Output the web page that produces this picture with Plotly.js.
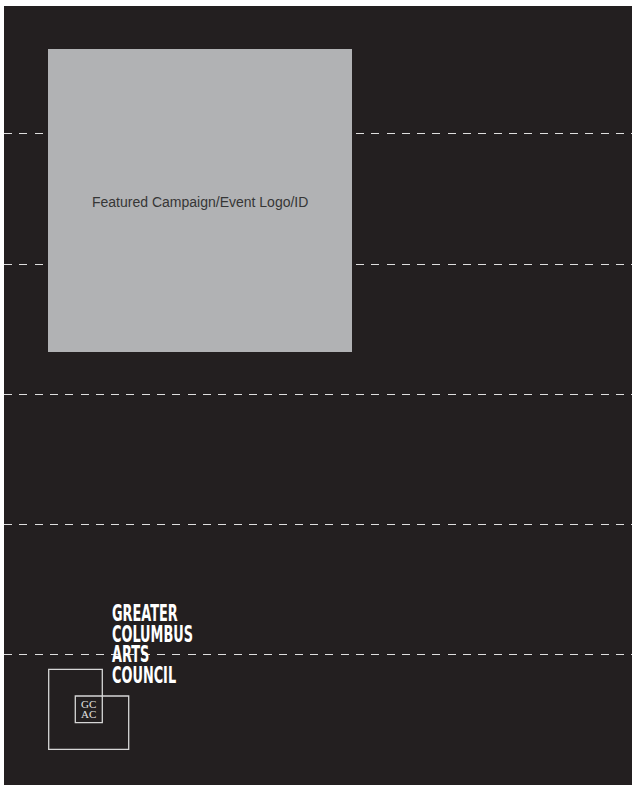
<!DOCTYPE html>
<html>
<head>
<meta charset="utf-8">
<script src="https://cdn.plot.ly/plotly-3.0.1.min.js"></script>
<style>
  html, body { margin: 0; padding: 0; background: #ffffff; }
  #chart { width: 632px; height: 785px; }
</style>
</head>
<body>
<div id="chart"></div>
<script>
// ---- content ----
var guideLineY = [133.5, 264, 394, 524, 654.5];           // dashed trim/guide lines
var placeholderLabel = 'Featured Campaign/Event Logo/ID';
var wordmarkLines = ['GREATER', 'COLUMBUS', 'ARTS', 'COUNCIL'];
var monogramLines = ['GC', 'AC'];

// ---- layout constants ----
var W = 632, H = 785;
var BG = '#231f20';
var PANEL = '#b1b2b4';
var panel = {x0: 48, y0: 49, x1: 352, y1: 352};
var wordmark = {x: 109.5, yTop: 613, step: 20.6, size: 23, widestPx: 81};
var mono = {cx: 88.8, yTop: 704, step: 9.8};

var annotations = [];
annotations.push({
  x: (panel.x0 + panel.x1) / 2, y: (panel.y0 + panel.y1) / 2 + 1,
  xref: 'x', yref: 'y', text: placeholderLabel, showarrow: false,
  xanchor: 'center', yanchor: 'middle',
  font: {family: 'Liberation Sans, Arial, sans-serif', size: 14, color: '#363636'}
});
var wordmarkStart = annotations.length;
wordmarkLines.forEach(function (t, i) {
  annotations.push({
    x: wordmark.x, y: wordmark.yTop + i * wordmark.step,
    xref: 'x', yref: 'y', text: '<b>' + t + '</b>', showarrow: false,
    xanchor: 'left', yanchor: 'middle',
    font: {family: 'DejaVu Sans Condensed, DejaVu Sans, sans-serif', size: wordmark.size, color: '#ffffff'}
  });
});
monogramLines.forEach(function (t, i) {
  annotations.push({
    x: mono.cx, y: mono.yTop + i * mono.step,
    xref: 'x', yref: 'y', text: t, showarrow: false,
    xanchor: 'center', yanchor: 'middle',
    font: {family: 'Liberation Serif, DejaVu Serif, serif', size: 11, color: '#e2e2e2'}
  });
});

var shapes = [
  {type: 'rect', xref: 'x', yref: 'y', x0: panel.x0, x1: panel.x1, y0: panel.y0, y1: panel.y1,
   fillcolor: PANEL, line: {width: 0}, layer: 'above'},
  {type: 'path', xref: 'x', yref: 'y', layer: 'above',
   path: 'M48.7,669.3 L102.3,669.3 L102.3,696 L128.7,696 L128.7,749.3 L48.7,749.3 Z',
   line: {color: '#d6d6d6', width: 1.3}},
  {type: 'rect', xref: 'x', yref: 'y', layer: 'above',
   x0: 75.3, x1: 102.3, y0: 696, y1: 722.7,
   line: {color: '#d6d6d6', width: 1.3}}
];

var data = [{x: [4], y: [6], type: 'scatter', mode: 'markers',
  marker: {opacity: 0}, hoverinfo: 'skip', showlegend: false}];

var layout = {
  width: W, height: H,
  margin: {l: 4, r: 0, t: 6, b: 0, pad: 0},
  paper_bgcolor: '#ffffff',
  plot_bgcolor: BG,
  showlegend: false,
  xaxis: {range: [4, 632], showgrid: false, zeroline: false, showticklabels: false,
          ticks: '', showline: false, fixedrange: true},
  yaxis: {range: [785, 6], tickmode: 'array', tickvals: guideLineY,
          showgrid: true, gridcolor: '#dedede', gridwidth: 1, griddash: '8px,7.3px',
          zeroline: false, showticklabels: false, ticks: '', showline: false, fixedrange: true},
  shapes: shapes,
  annotations: annotations
};

Plotly.newPlot('chart', data, layout, {staticPlot: true, displayModeBar: false}).then(function (gd) {
  // condense the wordmark horizontally (heavy condensed gothic look)
  var texts = [];
  for (var i = 0; i < wordmarkLines.length; i++) {
    var el = gd.querySelector('.annotation[data-index="' + (wordmarkStart + i) + '"] text.annotation-text');
    if (el) texts.push(el);
  }
  var widest = 0;
  texts.forEach(function (el) { widest = Math.max(widest, el.getBBox().width); });
  if (!widest) return;
  var sx = wordmark.widestPx / widest;
  texts.forEach(function (el) {
    var bb = el.getBBox();
    var prev = el.getAttribute('transform') || '';
    el.setAttribute('transform', prev + ' translate(' + bb.x + ',0) scale(' + sx + ',1) translate(' + (-bb.x) + ',0)');
  });
});
</script>
</body>
</html>
